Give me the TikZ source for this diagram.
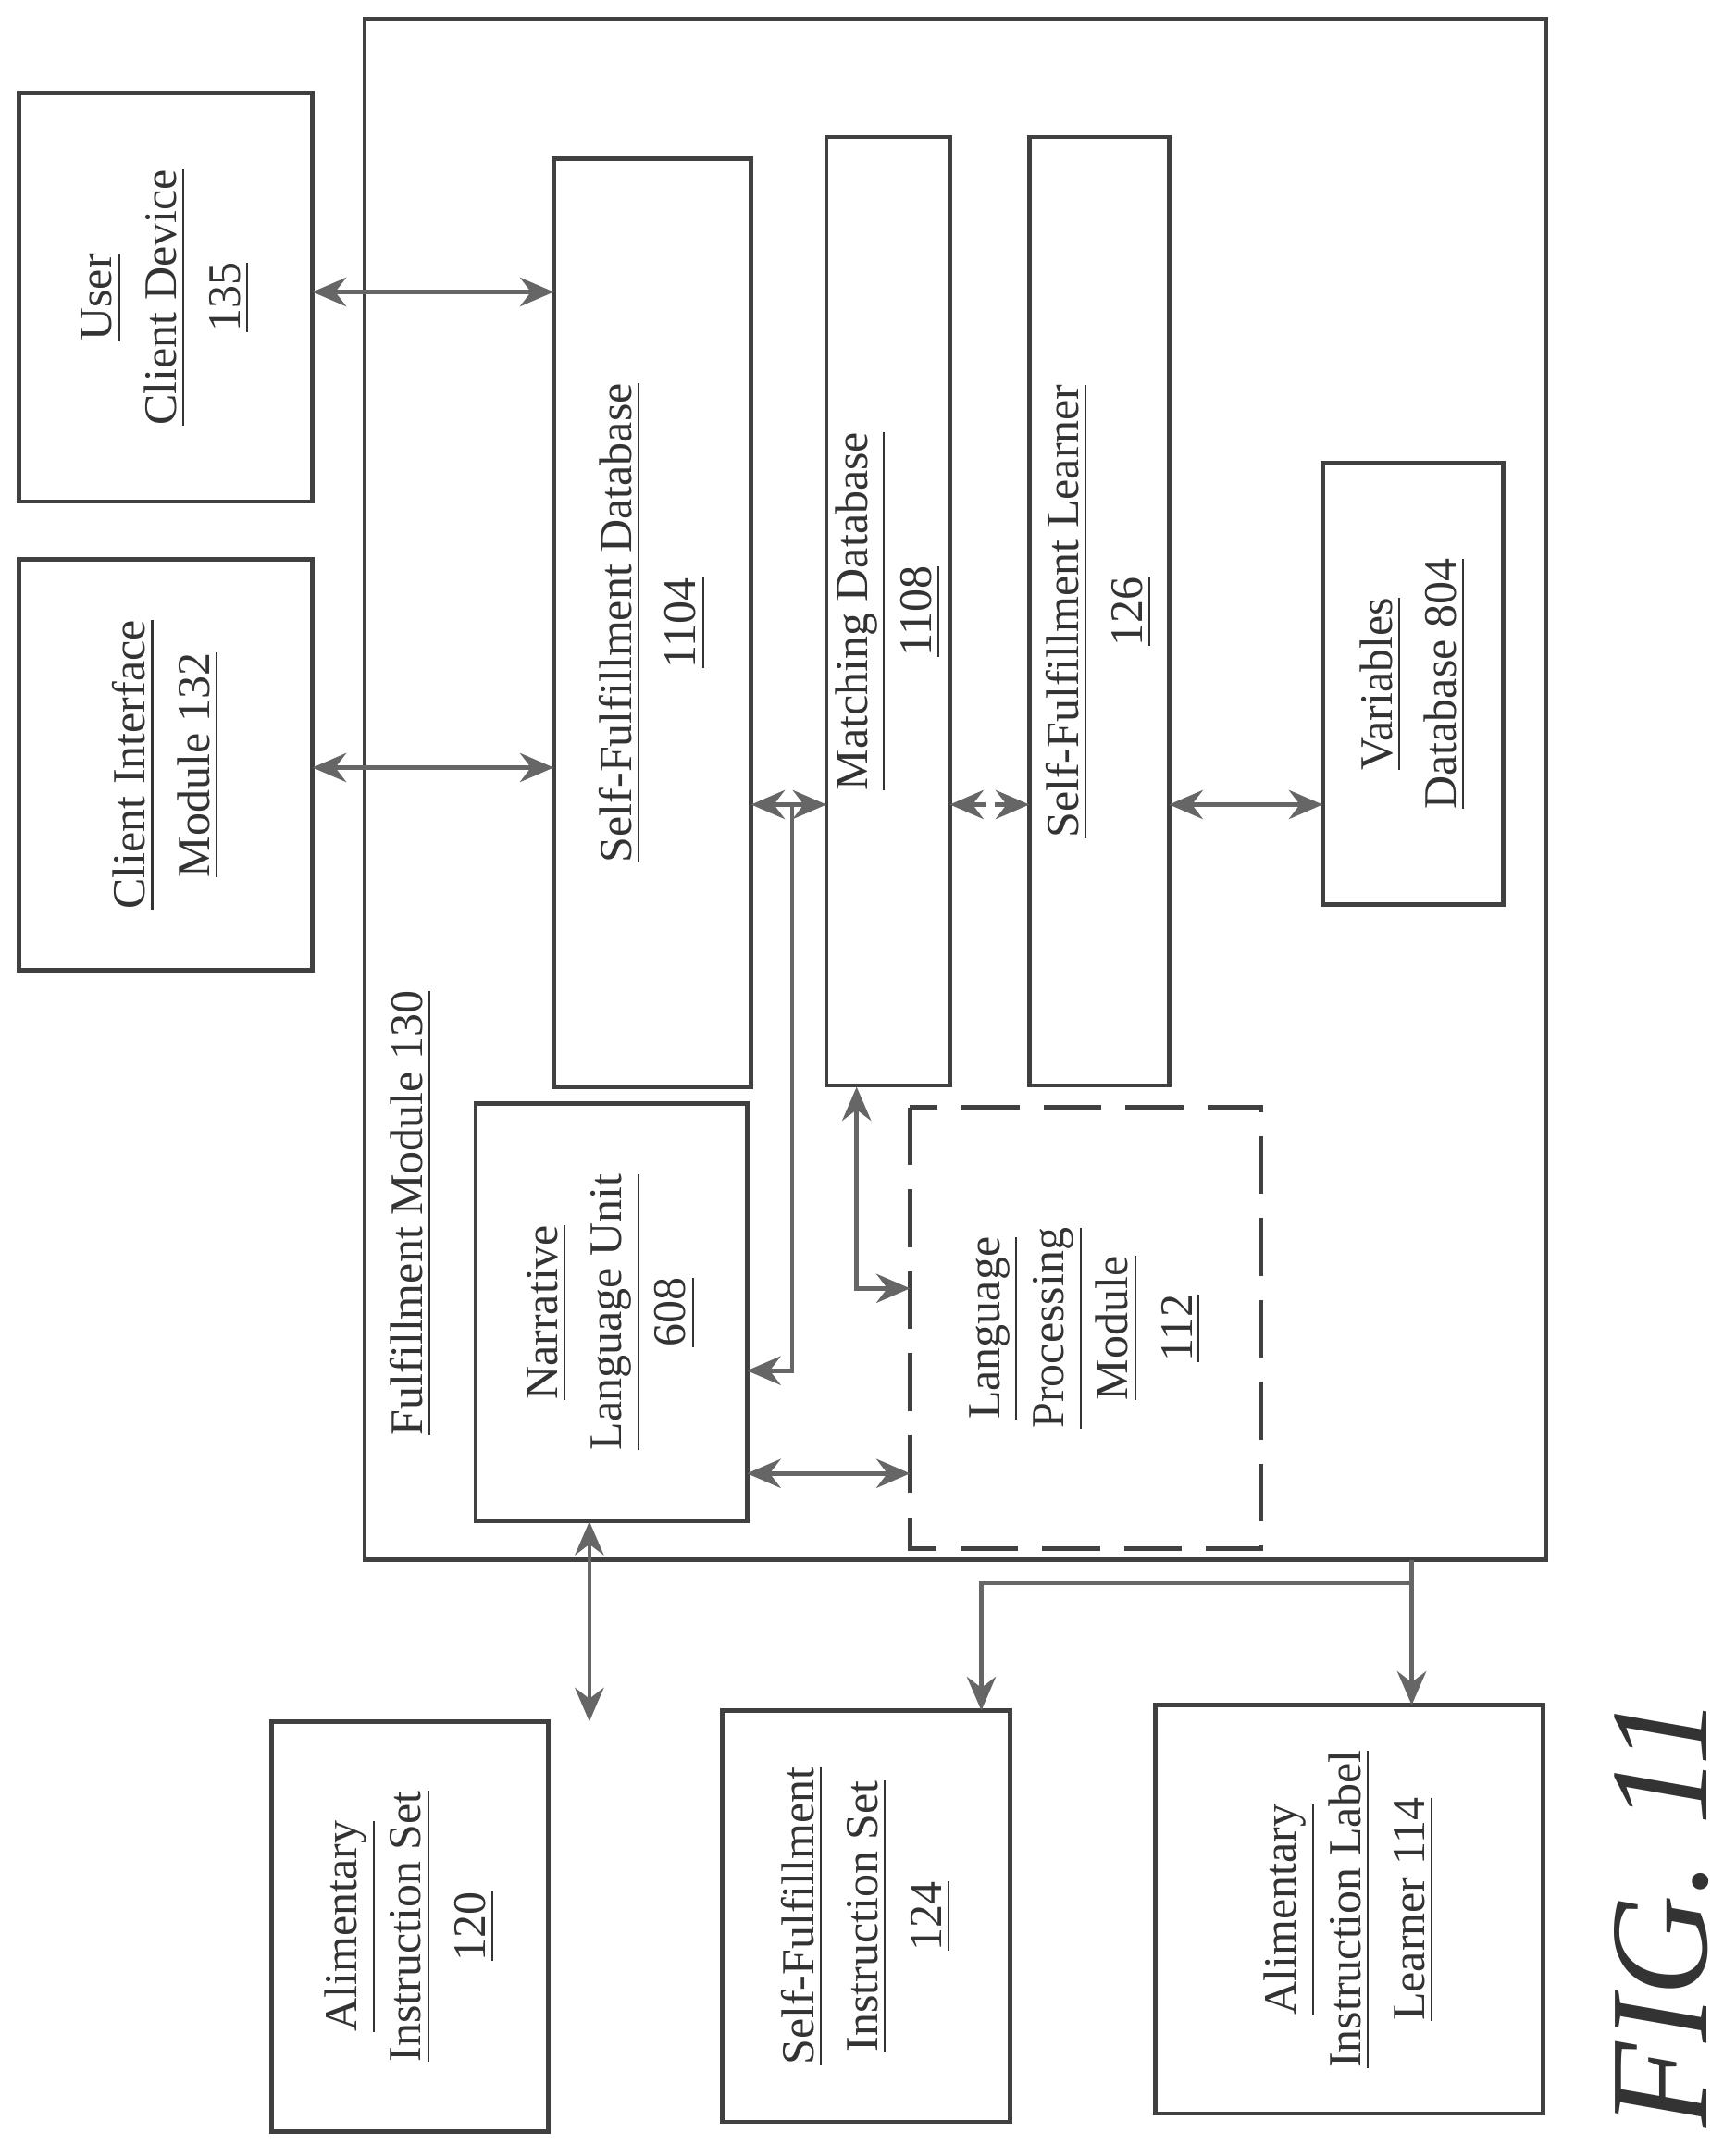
\documentclass[tikz,border=0pt]{standalone}
\usepackage{fontspec}
\setmainfont{Liberation Serif}
\usetikzlibrary{arrows.meta}
\begin{document}
\begin{tikzpicture}[x=0.01cm,y=-0.01cm,
  box/.style={draw=black!75,line width=0.9pt},
  lbl/.style={rotate=90,align=center,font=\fontsize{9.6}{13.3}\selectfont,text=black!80},
  con/.style={draw=black!60,line width=0.9pt,{Stealth[length=7pt,width=6pt]}-{Stealth[length=7pt,width=6pt]}},
  one/.style={draw=black!60,line width=0.9pt,-{Stealth[length=7pt,width=6pt]}}]
\useasboundingbox (0,0) rectangle (1266,1565);
\draw[box] (266,14) rectangle (1128,1138);
\node[lbl] (fmlbl) at (300,885) {\underline{Fulfillment Module 130}};
\draw[box] (14,68) rectangle (228,366) node[lbl,midway] (ucd) {\underline{User}\\\underline{Client Device}\\\underline{135}};
\draw[box] (14,408) rectangle (228,708) node[lbl,midway] (cim) {\underline{Client Interface}\\\underline{Module 132}};
\draw[box] (404,116) rectangle (548,793) node[lbl,midway] (sfdb) {\underline{Self-Fulfillment Database}\\\underline{1104}};
\draw[box] (603,100) rectangle (693,792) node[lbl,midway] (mdb) {\underline{Matching Database}\\\underline{1108}};
\draw[box] (751,100) rectangle (853,792) node[lbl,midway] (sfl) {\underline{Self-Fulfillment Learner}\\\underline{126}};
\draw[box] (965,338) rectangle (1097,660) node[lbl,midway] (vdb) {\underline{Variables}\\\underline{Database 804}};
\draw[box] (347,805) rectangle (545,1110) node[lbl,midway] (nlu) {\underline{Narrative}\\\underline{Language Unit}\\\underline{608}};
\draw[box,dashed,dash pattern=on 12pt off 5pt] (664,808) rectangle (920,1130) node[lbl,midway] (lpm) {\underline{Language}\\\underline{Processing}\\\underline{Module}\\\underline{112}};
\draw[box] (198,1256) rectangle (400,1555) node[lbl,midway] (ais) {\underline{Alimentary}\\\underline{Instruction Set}\\\underline{120}};
\draw[box] (527,1248) rectangle (737,1548) node[lbl,midway] (sfis) {\underline{Self-Fulfillment}\\\underline{Instruction Set}\\\underline{124}};
\draw[box] (843,1244) rectangle (1126,1542) node[lbl,midway] (aill) {\underline{Alimentary}\\\underline{Instruction Label}\\\underline{Learner 114}};
\node[rotate=90,font=\itshape\fontsize{29}{32}\selectfont,text=black!80] (fig) at (1212,1395) {FIG. 11};
\coordinate (a1) at (228,213); \coordinate (b1) at (404,213);
\coordinate (a2) at (228,560); \coordinate (b2) at (404,560);
\draw[con] (a1) -- (b1);
\draw[con] (a2) -- (b2);
\coordinate (c1) at (548,587); \coordinate (c2) at (603,587); \coordinate (cb) at (578,587);
\coordinate (c3) at (545,1000);
\draw[con] (c1) -- (c2);
\draw[one] (cb) |- (c3);
\coordinate (d1) at (693,587); \coordinate (d2) at (751,587);
\draw[con,dash pattern=on 3pt off 2pt] (d1) -- (d2);
\coordinate (e1) at (853,587); \coordinate (e2) at (965,587);
\draw[con] (e1) -- (e2);
\coordinate (f1) at (625,793); \coordinate (f2) at (664,940);
\draw[con] (f1) |- (f2);
\coordinate (g1) at (545,1075); \coordinate (g2) at (664,1075);
\draw[con] (g1) -- (g2);
\coordinate (h1) at (430,1110); \coordinate (h2) at (430,1256);
\draw[con] (h1) -- (h2);
\coordinate (k0) at (1030,1138); \coordinate (k1) at (1030,1155);
\coordinate (k2) at (716,1248); \coordinate (k3) at (1030,1244);
\draw[draw=black!60,line width=0.9pt] (k0) -- (k1);
\draw[one] (k1) -| (k2);
\draw[one] (k1) -- (k3);
\end{tikzpicture}
\end{document}
